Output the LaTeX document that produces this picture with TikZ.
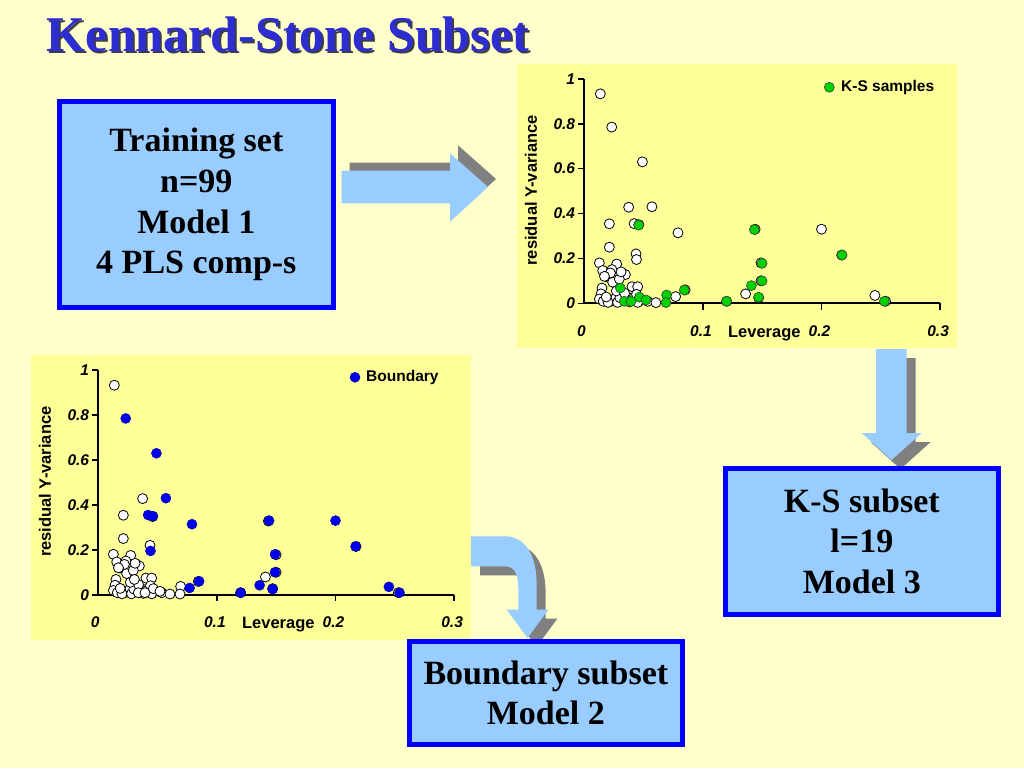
\documentclass[tikz,border=0pt]{standalone}
\usepackage{fontspec}
\setmainfont{Liberation Serif}
\newfontfamily\chartfont{Liberation Sans}
\definecolor{bgyellow}{RGB}{255,255,204}
\definecolor{chartyellow}{RGB}{255,255,153}
\definecolor{boxfill}{RGB}{153,204,255}
\definecolor{boxblue}{RGB}{0,0,255}
\definecolor{arrowblue}{RGB}{153,204,255}
\definecolor{shadowgray}{RGB}{128,128,128}
\definecolor{titleblue}{RGB}{45,45,210}
\definecolor{titleshadow}{RGB}{60,60,70}
\definecolor{ksgreen}{RGB}{0,210,0}
\definecolor{bdblue}{RGB}{0,0,235}

\tikzset{
  ticklab/.style={font=\chartfont\fontsize{15.5}{18}\selectfont\bfseries\itshape, inner sep=0pt},
  axlab/.style={font=\chartfont\fontsize{16.5}{19}\selectfont\bfseries, inner sep=0pt},
  leglab/.style={font=\chartfont\fontsize{15.5}{18}\selectfont\bfseries, inner sep=0pt, anchor=west},
  axisline/.style={line width=2pt},
  tickmark/.style={line width=1.6pt},
  databox/.style={draw=boxblue, fill=boxfill, line width=5pt, inner sep=0pt, align=center,
                  font=\fontsize{34}{40.7}\selectfont\bfseries},
  wdot/.style={fill=white, draw=black, line width=0.8pt},
  gdot/.style={fill=ksgreen, draw=black!75, line width=0.6pt},
  bdot/.style={fill=bdblue, draw=bdblue!75!black, line width=0.5pt},
  barrow/.style={fill=arrowblue},
  sarrow/.style={fill=shadowgray},
  titletext/.style={anchor=base west, inner sep=0pt, font=\fontsize{50}{60}\selectfont\bfseries},
}

\newcommand{\plotpts}[2]{%
  \foreach \a/\b in {#2}{\path[#1] ({\a*1186},{-\b*224.5}) circle[radius=5pt];}}

\newcommand{\chartaxes}[1]{%
  \fill[chartyellow] (-67,-239.5) rectangle (373,45);
  \draw[axisline] (0,-224.5) -- (0,0) -- (355.8,0);
  \foreach \v/\l/\n in {0/0/0,0.2/0.2/2,0.4/0.4/4,0.6/0.6/6,0.8/0.8/8,1/1/10}{
    \draw[tickmark] (-6.5,{-\v*224.5}) -- (0,{-\v*224.5});
    \node[ticklab,anchor=east] (#1y\n) at (-9,{-\v*224.5}) {\l};}
  \node[ticklab] (#1x0) at (-3,27.4) {0};
  \foreach \v/\l/\n in {1/0.1/1,2/0.2/2,3/0.3/3}{
    \draw[tickmark] ({\v*118.6},0) -- ({\v*118.6},6.5);
    \node[ticklab] (#1x\n) at ({\v*118.6-2},27.4) {\l};}
  \node[axlab] (#1xt) at (180,30) {Leverage};
  \node[axlab,rotate=90] (#1yt) at (-53.3,-113) {residual Y-variance};
}

\newcommand{\whitepts}{0.0135/0.933, 0.0374/0.428, 0.0211/0.354, 0.0211/0.250, 0.0436/0.220, 0.0127/0.180, 0.0155/0.146, 0.0273/0.175, 0.0233/0.150, 0.0183/0.119, 0.0239/0.094, 0.0323/0.134, 0.0346/0.128, 0.0295/0.108, 0.0149/0.068, 0.0402/0.074, 0.0450/0.074, 0.0141/0.042, 0.0127/0.019, 0.0160/0.009, 0.0239/0.012, 0.0267/0.027, 0.0323/0.019, 0.0366/0.027, 0.0408/0.019, 0.0478/0.015, 0.0534/0.009, 0.0604/0.003, 0.0200/0.004, 0.0280/0.004, 0.0300/0.025, 0.0380/0.006, 0.0450/0.004, 0.0185/0.028, 0.0270/0.055, 0.0340/0.045, 0.0220/0.135, 0.0170/0.120, 0.0310/0.140, 0.0440/0.040}
\newcommand{\bluepts}{0.0231/0.785, 0.049/0.630, 0.057/0.430, 0.042/0.355, 0.046/0.350, 0.079/0.314, 0.044/0.195, 0.077/0.030, 0.085/0.060, 0.120/0.009, 0.136/0.042, 0.144/0.330, 0.149/0.180, 0.149/0.100, 0.147/0.025, 0.200/0.330, 0.217/0.215, 0.245/0.035, 0.254/0.009}
\newcommand{\greenpts}{0.0458/0.348, 0.0304/0.068, 0.0337/0.009, 0.0394/0.009, 0.0464/0.027, 0.0520/0.015, 0.0694/0.037, 0.0689/0.003, 0.0843/0.059, 0.120/0.009, 0.1409/0.079, 0.1434/0.328, 0.1499/0.178, 0.1499/0.100, 0.147/0.027, 0.2173/0.215, 0.253/0.009}

\newcommand{\ptsw}[1]{\expandafter\plotpts\expandafter{\expandafter w\expandafter d\expandafter o\expandafter t\expandafter}\expandafter{#1}}
\newcommand{\ptsg}[1]{\expandafter\plotpts\expandafter{\expandafter g\expandafter d\expandafter o\expandafter t\expandafter}\expandafter{#1}}
\newcommand{\ptsb}[1]{\expandafter\plotpts\expandafter{\expandafter b\expandafter d\expandafter o\expandafter t\expandafter}\expandafter{#1}}

\begin{document}
\begin{tikzpicture}[x=1pt,y=-1pt]
\useasboundingbox (0,0) rectangle (1024,768);
\fill[bgyellow] (0,0) rectangle (1024,768);

% title with shadow
\node[titletext, text=titleshadow] (titlesh) at (48.7,53.7) {Kennard-Stone Subset};
\node[titletext, text=titleblue] (title) at (46.7,51.7) {Kennard-Stone Subset};

% top-right chart (K-S samples)
\begin{scope}[shift={(584.3,303.3)}]
  \chartaxes{a}
  \ptsw{\whitepts}
  \ptsw{\bluepts}
  \ptsg{\greenpts}
  \path[gdot] (245,-216) circle[radius=5pt];
  \node[leglab] (alegend) at (256.7,-216) {K-S samples};
\end{scope}

% bottom-left chart (Boundary)
\begin{scope}[shift={(98.3,594.7)}]
  \chartaxes{b}
  \ptsw{\whitepts}
  \ptsw{\greenpts}
  \ptsb{\bluepts}
  \path[bdot] (256.7,-217.4) circle[radius=5pt];
  \node[leglab] (blegend) at (267.7,-217.4) {Boundary};
\end{scope}

% right arrow
\path[sarrow, shift={(8,-8)}] (341.7,170.7) -- (450,170.7) -- (450,153.3) -- (488,187) -- (450,221.7) -- (450,203.3) -- (341.7,203.3) -- cycle;
\path[barrow] (341.7,170.7) -- (450,170.7) -- (450,153.3) -- (488,187) -- (450,221.7) -- (450,203.3) -- (341.7,203.3) -- cycle;

% down arrow
\path[sarrow, shift={(9,9)}] (876,349) -- (906.7,349) -- (906.7,433) -- (921.7,433) -- (891.5,460) -- (861.7,433) -- (876,433) -- cycle;
\path[barrow] (876,349) -- (906.7,349) -- (906.7,433) -- (921.7,433) -- (891.5,460) -- (861.7,433) -- (876,433) -- cycle;

% curved arrow
\path[sarrow, shift={(9,9)}] (471,536.3) -- (505,536.3) .. controls (525,536.3) and (536.7,555) .. (536.7,585) -- (536.7,609.7) -- (548.3,609.7) -- (527.5,638) -- (506.7,609.7) -- (518.3,609.7) -- (518.3,588) .. controls (518.3,575) and (515,566.3) .. (505,566.3) -- (471,566.3) -- cycle;
\path[barrow] (471,536.3) -- (505,536.3) .. controls (525,536.3) and (536.7,555) .. (536.7,585) -- (536.7,609.7) -- (548.3,609.7) -- (527.5,638) -- (506.7,609.7) -- (518.3,609.7) -- (518.3,588) .. controls (518.3,575) and (515,566.3) .. (505,566.3) -- (471,566.3) -- cycle;

% boxes
\node[databox, minimum width=274.3pt, minimum height=205.7pt] (train) at (196.35,204.65) {Training set\\n=99\\Model 1\\4 PLS comp-s};
\node[databox, minimum width=273.3pt, minimum height=145.7pt] (ks) at (861.85,541.35) {K-S subset\\l=19\\Model 3};
\node[databox, minimum width=273.3pt, minimum height=102.4pt] (bound) at (545.85,693) {Boundary subset\\Model 2};
\end{tikzpicture}
\end{document}
